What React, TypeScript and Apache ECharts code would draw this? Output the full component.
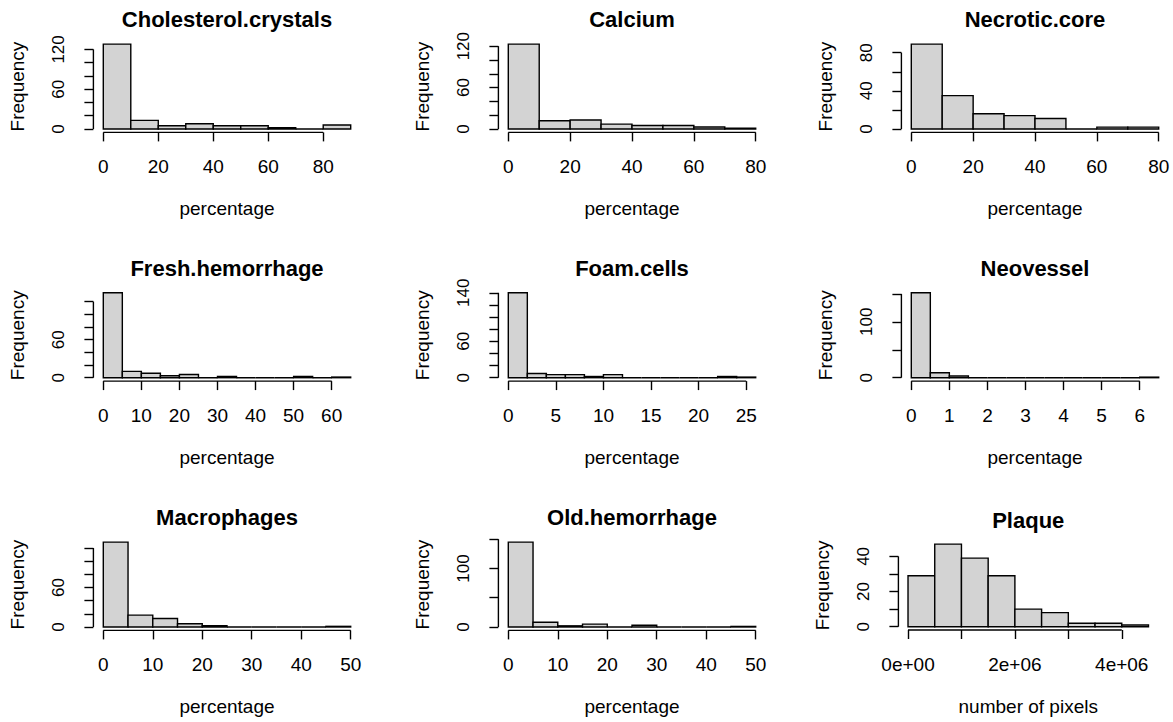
import React, { useEffect, useRef } from "react";
import * as echarts from "echarts";

// ---------- data ----------
const panelTitles = [
  "Cholesterol.crystals", "Calcium", "Necrotic.core",
  "Fresh.hemorrhage", "Foam.cells", "Neovessel",
  "Macrophages", "Old.hemorrhage", "Plaque",
];
const xAxisNames = [
  "percentage", "percentage", "percentage",
  "percentage", "percentage", "percentage",
  "percentage", "percentage", "number of pixels",
];

// bin edges
const cholesterolBreaks = [0, 10, 20, 30, 40, 50, 60, 70, 80, 90];
const calciumBreaks = [0, 10, 20, 30, 40, 50, 60, 70, 80];
const necroticBreaks = [0, 10, 20, 30, 40, 50, 60, 70, 80];
const freshBreaks = [0, 5, 10, 15, 20, 25, 30, 35, 40, 45, 50, 55, 60, 65];
const foamBreaks = [0, 2, 4, 6, 8, 10, 12, 14, 16, 18, 20, 22, 24, 26];
const neovesselBreaks = [0, 0.5, 1, 1.5, 2, 2.5, 3, 3.5, 4, 4.5, 5, 5.5, 6, 6.5];
const macrophageBreaks = [0, 5, 10, 15, 20, 25, 30, 35, 40, 45, 50];
const oldBreaks = [0, 5, 10, 15, 20, 25, 30, 35, 40, 45, 50];
const plaqueBreaks = [0, 5e5, 1e6, 1.5e6, 2e6, 2.5e6, 3e6, 3.5e6, 4e6, 4.5e6];

// frequencies per bin
const cholesterolCounts = [128, 13, 5, 8, 5, 5, 2, 0, 6];
const calciumCounts = [123, 12, 13, 7, 5, 5, 3, 1];
const necroticCounts = [89, 35, 16, 14, 11, 0, 2, 2];
const freshCounts = [134, 10, 7, 3, 5, 0, 2, 0, 0, 0, 2, 0, 1];
const foamCounts = [140, 7, 5, 5, 2, 5, 0, 0, 0, 0, 0, 2, 1];
const neovesselCounts = [152, 9, 3, 0, 0, 0, 0, 0, 0, 0, 0, 0, 1];
const macrophageCounts = [129, 18, 13, 5, 2, 0, 0, 0, 0, 1];
const oldCounts = [145, 8, 2, 5, 0, 3, 0, 0, 0, 1];
const plaqueCounts = [29, 47, 39, 29, 10, 8, 2, 2, 1];

// x ticks / labels
const xTicksPct80 = [0, 20, 40, 60, 80];
const xTicksFresh = [0, 10, 20, 30, 40, 50, 60];
const xTicksFoam = [0, 5, 10, 15, 20, 25];
const xTicksNeo = [0, 1, 2, 3, 4, 5, 6];
const xTicksPct50 = [0, 10, 20, 30, 40, 50];
const xTicksPlaque = [0, 1e6, 2e6, 3e6, 4e6];
const xLabelsPlaque = [0, 2e6, 4e6];
const xLabelTextsPlaque = ["0e+00", "2e+06", "4e+06"];

// y ticks / labels
const yTicks120 = [0, 20, 40, 60, 80, 100, 120];
const yTicks140 = [0, 20, 40, 60, 80, 100, 120, 140];
const yTicks80 = [0, 20, 40, 60, 80];
const yTicks150 = [0, 50, 100, 150];
const yTicks40 = [0, 10, 20, 30, 40];
const yLabels0_60_120 = [0, 60, 120];
const yLabels0_60 = [0, 60];
const yLabels0_60_140 = [0, 60, 140];
const yLabels0_40_80 = [0, 40, 80];
const yLabels0_100 = [0, 100];
const yLabels0_20_40 = [0, 20, 40];

const panelBreaks = [cholesterolBreaks, calciumBreaks, necroticBreaks, freshBreaks, foamBreaks, neovesselBreaks, macrophageBreaks, oldBreaks, plaqueBreaks];
const panelCounts = [cholesterolCounts, calciumCounts, necroticCounts, freshCounts, foamCounts, neovesselCounts, macrophageCounts, oldCounts, plaqueCounts];
const panelXTicks = [xTicksPct80, xTicksPct80, xTicksPct80, xTicksFresh, xTicksFoam, xTicksNeo, xTicksPct50, xTicksPct50, xTicksPlaque];
const panelXLabels = [xTicksPct80, xTicksPct80, xTicksPct80, xTicksFresh, xTicksFoam, xTicksNeo, xTicksPct50, xTicksPct50, xLabelsPlaque];
const panelYTicks = [yTicks120, yTicks120, yTicks80, yTicks120, yTicks140, yTicks150, yTicks120, yTicks150, yTicks40];
const panelYLabels = [yLabels0_60_120, yLabels0_60_120, yLabels0_40_80, yLabels0_60, yLabels0_60_140, yLabels0_100, yLabels0_60, yLabels0_100, yLabels0_20_40];

// ---------- layout (plot regions, px) ----------
const colLeft = [93.4, 498.4, 901.4];
const rowTop = [40.7, 289.4, 538.7];
const plotW = 267.2;
const plotH = 91.7;
const layouts = panelTitles.map((_, i) => {
  if (i === 8) return { left: 898.4, top: 540.8, width: 259.7, height: 89.2 };
  return { left: colLeft[i % 3], top: rowTop[Math.floor(i / 3)], width: plotW, height: plotH };
});

const FONT = '"Liberation Sans", Arial, Helvetica, sans-serif';
const LW = 1.4;

function fmtX(panel: number, v: number): string {
  if (panel === 8) {
    const k = xLabelsPlaque.indexOf(v);
    return k >= 0 ? xLabelTextsPlaque[k] : "";
  }
  return String(v);
}

function buildOption() {
  const grid: any[] = [];
  const xAxis: any[] = [];
  const yAxis: any[] = [];
  const series: any[] = [];
  const graphic: any[] = [];

  panelTitles.forEach((title, i) => {
    const L = layouts[i];
    const br = panelBreaks[i];
    const ct = panelCounts[i];
    const span = br[br.length - 1] - br[0];
    const maxC = Math.max(...ct);
    grid.push({ left: L.left, top: L.top, width: L.width, height: L.height, containLabel: false });
    xAxis.push({
      type: "value",
      gridIndex: i,
      position: "bottom",
      min: br[0] - 0.04 * span,
      max: br[br.length - 1] + 0.04 * span,
      axisLine: { show: false, onZero: false },
      splitLine: { show: false },
      axisTick: { show: true, inside: false, customValues: panelXTicks[i], length: 9, lineStyle: { color: "#000", width: LW } },
      axisLabel: {
        customValues: panelXLabels[i],
        margin: 24.5,
        color: "#000",
        fontFamily: FONT,
        fontSize: 19,
        lineHeight: 19,
        formatter: (v: number) => fmtX(i, v),
      },
      name: xAxisNames[i],
      nameLocation: "middle",
      nameGap: 67,
      nameTextStyle: { color: "#000", fontFamily: FONT, fontSize: 19, lineHeight: 19 },
    });
    yAxis.push({
      type: "value",
      gridIndex: i,
      position: "left",
      min: -0.04 * maxC,
      max: 1.04 * maxC,
      axisLine: { show: false, onZero: false },
      splitLine: { show: false },
      axisTick: { show: true, inside: false, customValues: panelYTicks[i], length: 9, lineStyle: { color: "#000", width: LW } },
      axisLabel: {
        customValues: panelYLabels[i],
        rotate: 90,
        margin: 26,
        color: "#000",
        fontFamily: FONT,
        fontSize: 17,
        lineHeight: 17,
      },
      name: "Frequency",
      nameLocation: "middle",
      nameGap: 66,
      nameTextStyle: { color: "#000", fontFamily: FONT, fontSize: 19, lineHeight: 19 },
    });

    const bins = ct.map((c, k) => [br[k], br[k + 1], c]);
    series.push({
      type: "custom",
      name: title,
      xAxisIndex: i,
      yAxisIndex: i,
      clip: false,
      encode: { x: [0, 1], y: 2 },
      data: bins,
      renderItem: (params: any, api: any) => {
        const p0 = api.coord([api.value(0), api.value(2)]);
        const p1 = api.coord([api.value(1), 0]);
        return {
          type: "rect",
          shape: { x: p0[0], y: p0[1], width: p1[0] - p0[0], height: p1[1] - p0[1] },
          style: { fill: "#D3D3D3", stroke: "#000", lineWidth: LW },
        };
      },
    });

    const xt = panelXTicks[i];
    const yt = panelYTicks[i];
    series.push({
      type: "custom",
      name: title + " axes",
      xAxisIndex: i,
      yAxisIndex: i,
      clip: false,
      silent: true,
      data: [[xt[0], xt[xt.length - 1], yt[0], yt[yt.length - 1]]],
      renderItem: (params: any, api: any) => {
        const cs = params.coordSys;
        const bottom = cs.y + cs.height;
        const left = cs.x;
        const pa = api.coord([api.value(0), api.value(2)]);
        const pb = api.coord([api.value(1), api.value(3)]);
        return {
          type: "group",
          children: [
            { type: "line", shape: { x1: pa[0], y1: bottom, x2: pb[0], y2: bottom }, style: { stroke: "#000", lineWidth: LW } },
            { type: "line", shape: { x1: left, y1: pa[1], x2: left, y2: pb[1] }, style: { stroke: "#000", lineWidth: LW } },
          ],
        };
      },
    });

    graphic.push({
      type: "text",
      x: L.left + L.width / 2,
      y: L.top - 20.8,
      style: {
        text: title,
        fill: "#000",
        fontFamily: FONT,
        fontSize: 22,
        fontWeight: "bold",
        align: "center",
        verticalAlign: "middle",
      },
    });
  });

  return {
    animation: false,
    backgroundColor: "#ffffff",
    grid,
    xAxis,
    yAxis,
    series,
    graphic,
  };
}

export default function App() {
  const ref = useRef<HTMLDivElement>(null);
  useEffect(() => {
    if (!ref.current) return;
    const chart = echarts.init(ref.current, undefined, { renderer: "svg" });
    chart.setOption(buildOption() as any);
    return () => chart.dispose();
  }, []);
  return (
    <div
      ref={ref}
      style={{ position: "fixed", left: 0, top: 0, width: 1173, height: 722, background: "#fff" }}
    />
  );
}
